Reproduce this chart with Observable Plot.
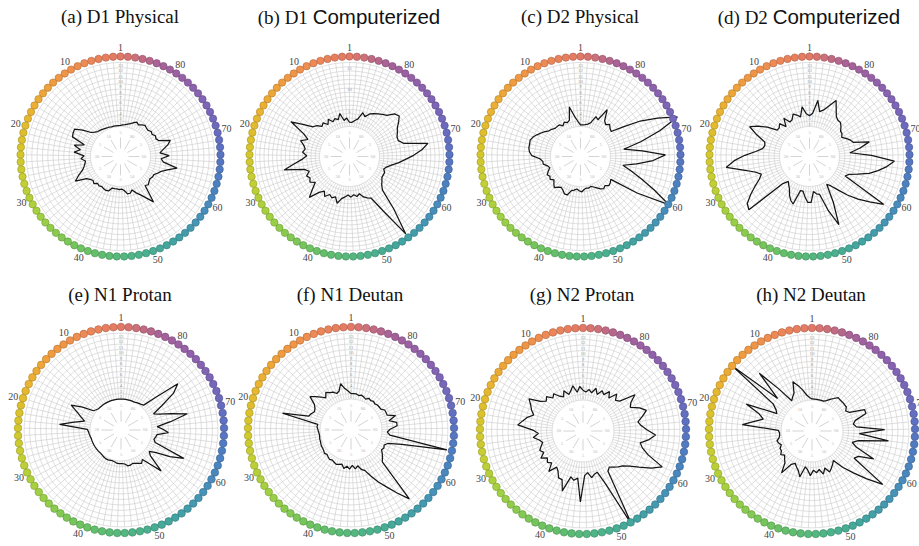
<!DOCTYPE html>
<html><head><meta charset="utf-8">
<script src="https://cdn.jsdelivr.net/npm/d3@7"></script>
<script src="https://cdn.jsdelivr.net/npm/@observablehq/plot@0.6"></script>
<style>
html,body{margin:0;padding:0;background:#fff;}
#root{position:relative;width:919px;height:546px;overflow:hidden;background:#fff;}
.title{position:absolute;width:300px;text-align:center;font-family:"Liberation Serif","Times New Roman",serif;font-size:19px;line-height:19px;color:#111;white-space:nowrap;}
.title .sans{font-family:"Liberation Sans",Arial,sans-serif;font-size:20.5px;}
</style></head>
<body><div id="root"></div>
<script>
// ---------- data ----------
const caps = d3.range(1, 86);
const capLabels = [1, 10, 20, 30, 40, 50, 60, 70, 80];
const scaleLabelsFine = d3.range(2, 14);      // 2..13
const scaleLabelsCoarse = [5, 10, 15];
const innerLabels = ["5","10","5","20","5","30","5","50","5","60","5","80"];
const titleSerif = ["(a) D1 Physical","(b) D1 ","(c) D2 Physical","(d) D2 ","(e) N1 Protan","(f) N1 Deutan","(g) N2 Protan","(h) N2 Deutan"];
const titleSans  = ["","Computerized","","Computerized","","","",""];

const valuesA = [2.2,2.2,2.2,2.2,2.2,2.3,2.3,2.4,2.5,2.6,
 2.7,3,3.5,5,6.4,6.3,6.1,3.5,5.3,4,
 5.1,3.2,3.8,3,3.2,3.5,4,5,6,4,
 3.5,3.2,3.5,3,3.2,3,3.2,3.3,3.2,2.5,
 2.5,2.5,2.6,2.5,2.8,3.5,3.5,3,3.8,4.5,
 5.5,6.9,3.5,3.8,3.5,3.3,3.5,3.5,4,4.5,
 5.5,7.2,4.5,4,5.5,3.8,4.5,5.5,6.2,4.2,
 3.8,4,3.6,3.8,3.5,3.6,3.8,3.5,3.2,3.5,
 3.2,2.8,2.6,2.4,2.3];
const valuesB = [3,4,3.5,5.3,4,4.5,4,5,4,5,
 4.5,5.5,6,8,10.9,7,5.5,7,6,5.5,
 6,5,6,8,10.6,6,5,6,5.5,6,
 5,6.5,8.4,6,5,6,5,5.5,5,6.3,
 5,4.5,4,4.5,4,4.5,4,5,5.5,6,
 10,17.4,11,6,5,4.5,4,4,4,3.5,
 4,5,6.5,8,10,12,13.6,8,7,7,
 7.5,8,9,10,9.5,8,7.5,7,6.5,6,
 5,5.7,4,3.5,3];
const valuesC = [2.3,3,4,5.9,3.5,3.2,3.5,3,3.5,3.5,
 3.5,3.8,4,4.5,5,5.5,6,6.3,6.2,6.2,
 6,5.5,4,3.5,3.5,2.8,2.5,3,3.5,3.2,
 3.5,3,3.5,4,3.5,3.2,3.5,4,4,3,
 2.8,2.5,2.8,3,2.6,2.4,2.5,2.3,2.6,3,
 3.5,3.8,3.5,4,3.8,3.5,9,15.2,11.5,8.5,
 6.2,4.5,7,10,12.3,8,4.6,8,12,16,
 12.5,9.4,6,3.8,4,4.5,4,4.5,6.5,4,
 4.4,3,2.6,2.4,2.3];
const valuesD = [4,4.4,5.8,4,4.5,4.9,4,3.8,5,3.5,
 4.7,4.2,4.2,6,7.5,8.9,7,5.2,5,5.3,
 6.5,8.5,10.5,12.1,9,7,6,6.7,8,9.5,
 11,11.5,3.5,2.5,3,3.5,4.5,5.3,5.8,3,
 3,4,5,5,3,3.5,3.7,7,10.3,6,
 2.5,3.2,4.5,6.5,8.5,10.5,12.9,4,4.5,6,
 8,9.5,11,12.3,8,4,6,7.9,5,4.6,
 4,3.4,3.8,3.9,4.5,5,5,5.4,6.5,8,
 6.6,5.5,5,7,4.5];
const valuesE = [2,2,2,2,2,2,2,2,2,2,
 2,2,2.2,2.5,4.5,6.5,5,4,3.2,5,
 7.6,2.5,2.3,2.2,2.1,2,2,2,2,2,
 2,2,2,2,2.1,2.2,2.3,2.3,2.2,2.2,
 2.3,2.5,2.5,2.5,2.6,3,3,2.8,3,3.2,
 3.5,3,4.5,6.8,3.5,2.8,4,6.5,8.9,3,
 2.6,2.8,3,5,4,3,5.5,8.8,6,4,
 3,5,8,9.7,5,2.5,2.3,2.2,2.1,2,
 2,2,2,2,2];
const valuesF = [3,3.5,4,5,3.8,3.5,4,4.2,4.6,3.8,
 4.5,5.2,6,4.5,4,3.8,4.2,4.5,9.2,2.5,
 2.6,2.4,2.3,2.2,2.2,2.3,2.3,2.4,2.5,2.5,
 2.6,2.8,2.6,2.8,3,2.8,3,3.2,3,2.8,
 3.5,3,3.5,2.8,3.5,3,3.8,4.2,5.5,7,
 8.5,10.5,12.8,4.5,4,3.5,3,3.2,3,3.5,
 6,14.2,3.5,3,3.5,4.8,4.8,3.5,4.9,3.5,
 3.5,3.5,3,3,3,2.8,3,2.8,3,2.6,
 2.8,3,2.8,3,3];
const valuesG = [3.8,4.5,3.5,4.8,4,3.5,4.5,3.5,4,5,
 4.5,5.5,5,5.8,7.8,7,6.5,5.8,6.8,7.5,
 8.3,5.5,4.5,5.5,4.5,4,4.5,5,4.5,5.5,
 4.5,5,4.5,6,4.5,5,6,6,7.9,5,
 5.5,5,9.3,4.5,4,5,4.5,4.3,7,15.7,
 5,4.5,5,5.5,6,7,8.5,10.5,12.2,9,
 7.6,7,8.5,9.6,8,7,6.5,7.5,8.5,7.5,
 6,6.5,7.9,5,4.5,5.5,4,5,4,4.5,
 3.5,4.5,3.5,4,3.5];
const valuesH = [2.2,2.5,3,4,5,6,4,3.5,3,6,
 10.6,5,15,5,4,3.5,9.3,6.5,5.5,7,
 9.1,2.5,2.3,2.3,2.5,3,2.8,2.5,3,3,
 3.5,3,3.5,4,5.8,3.5,3,3.5,4,5,
 3,3.5,4.5,3.5,4,3.5,4.5,3.5,4.5,4,
 3.5,3,5,7,9.5,12.5,5.5,6,8.7,5,
 4,5,10.4,5,9.6,4.5,4,4.5,6.7,6.7,
 4,3.5,4,4,4,4,4.1,3.5,3,2.5,
 2.2,2.2,2.2,2.2,2.2];

// ---------- styling / layout ----------
const colorStopCaps = [1,6,11,16,21,26,31,36,41,46,51,56,61,66,71,76,81,86];
const colorStops = ["#e27866","#ee8a55","#f09c3e","#eab432","#d8c52c","#c3cf34","#a0d043","#7cc757","#5ebd70","#4db38b","#42a3a2","#4692b8","#4b80c1","#5d70c1","#7866ba","#9160ab","#aa6396","#e27866"];
const capColor = d3.scaleLinear().domain(colorStopCaps).range(colorStops).interpolate(d3.interpolateRgb);

const panels = [
  {values: valuesA, cx: 120, cy: 156, s: 1.00, coarse: false, ty: 7},
  {values: valuesB, cx: 349, cy: 156, s: 1.00, coarse: true,  ty: 7},
  {values: valuesC, cx: 580, cy: 156, s: 1.00, coarse: false, ty: 7},
  {values: valuesD, cx: 809, cy: 156, s: 1.00, coarse: false, ty: 7},
  {values: valuesE, cx: 120, cy: 429, s: 1.03, coarse: false, ty: 285},
  {values: valuesF, cx: 350, cy: 429, s: 1.03, coarse: false, ty: 285},
  {values: valuesG, cx: 582, cy: 430, s: 1.03, coarse: false, ty: 285},
  {values: valuesH, cx: 811, cy: 430, s: 1.03, coarse: false, ty: 285}
];

const step = 2 * Math.PI / 85;
const ang = c => (c - 1) * step;               // counter-clockwise from top
const px = (a, r) => -r * Math.sin(a);
const py = (a, r) => r * Math.cos(a);
const R_IN = 30, R_OUT = 94, R_DOT = 100, R_LAB = 109.5;
const gridColor = "#c9c9c9";

const root = document.getElementById("root");

panels.forEach((p, idx) => {
  const vmax = p.coarse ? 17 : 14;
  const rs = d3.scaleLinear().domain([2, vmax]).range([R_IN, R_OUT]);
  const rings = d3.range(3, vmax + 1);
  const circ = d3.range(180).map(j => j / 180 * 2 * Math.PI);
  const ringPts = rings.flatMap(v => circ.map(a => ({v, a})));
  const innerAngles = d3.range(12).map(j => j * Math.PI / 6);
  const scaleLabels = p.coarse ? scaleLabelsCoarse : scaleLabelsFine;

  const D = 115;
  const size = Math.round(2 * D * p.s);
  const svg = Plot.plot({
    width: size, height: size, margin: 0,
    x: {domain: [-D, D], axis: null},
    y: {domain: [-D, D], axis: null},
    color: {type: "identity"},
    style: {background: "transparent", overflow: "visible"},
    marks: [
      Plot.line(ringPts, {x: d => px(d.a, rs(d.v)), y: d => py(d.a, rs(d.v)), z: "v",
        curve: "linear-closed", stroke: gridColor, strokeWidth: 0.6}),
      Plot.link(caps, {x1: c => px(ang(c), R_IN), y1: c => py(ang(c), R_IN),
        x2: c => px(ang(c), R_OUT), y2: c => py(ang(c), R_OUT), stroke: gridColor, strokeWidth: 0.6}),
      Plot.line(circ, {x: a => px(a, R_IN), y: a => py(a, R_IN), curve: "linear-closed",
        fill: "white", stroke: "#c4c4c4", strokeWidth: 0.6}),
      Plot.link(innerAngles, {x1: a => px(a, 8), y1: a => py(a, 8), x2: a => px(a, 19), y2: a => py(a, 19),
        stroke: "#cfcfcf", strokeWidth: 0.9}),
      Plot.text(innerAngles, {x: a => px(a, 23.5), y: a => py(a, 23.5), text: (a, i) => innerLabels[i],
        fontSize: 4.5, fill: "#b8b8b8", fontFamily: "Liberation Serif"}),
      Plot.text(scaleLabels, {x: v => 0, y: v => rs(v) + 2.6, text: v => String(v),
        fontSize: 5, fill: "#9a9a9a", fontFamily: "Liberation Serif"}),
      Plot.line(p.values, {x: (v, i) => px(ang(i + 1), rs(v)), y: (v, i) => py(ang(i + 1), rs(v)),
        curve: "linear-closed", stroke: "#151515", strokeWidth: 1.25, strokeLinejoin: "miter"}),
      Plot.dot(caps, {x: c => px(ang(c), R_DOT), y: c => py(ang(c), R_DOT), r: 3.7 * p.s,
        fill: c => capColor(c), stroke: c => d3.color(capColor(c)).darker(0.8).formatHex(), strokeWidth: 0.6}),
      Plot.text(capLabels, {x: c => px(ang(c === 1 ? c : c - 1.8), c === 1 ? 108.5 : R_LAB),
        y: c => py(ang(c === 1 ? c : c - 1.8), c === 1 ? 108.5 : R_LAB), text: c => String(c),
        fontSize: 10, fill: "#444", fontFamily: "Liberation Serif"})
    ]
  });
  svg.style.position = "absolute";
  svg.style.left = (p.cx - D * p.s) + "px";
  svg.style.top = (p.cy - D * p.s) + "px";
  root.appendChild(svg);

  const t = document.createElement("div");
  t.className = "title";
  t.style.left = (p.cx - 150) + "px";
  t.style.top = p.ty + "px";
  t.appendChild(document.createTextNode(titleSerif[idx]));
  if (titleSans[idx]) {
    const sp = document.createElement("span");
    sp.className = "sans";
    sp.textContent = titleSans[idx];
    t.appendChild(sp);
  }
  root.appendChild(t);
});
</script>
</body></html>
